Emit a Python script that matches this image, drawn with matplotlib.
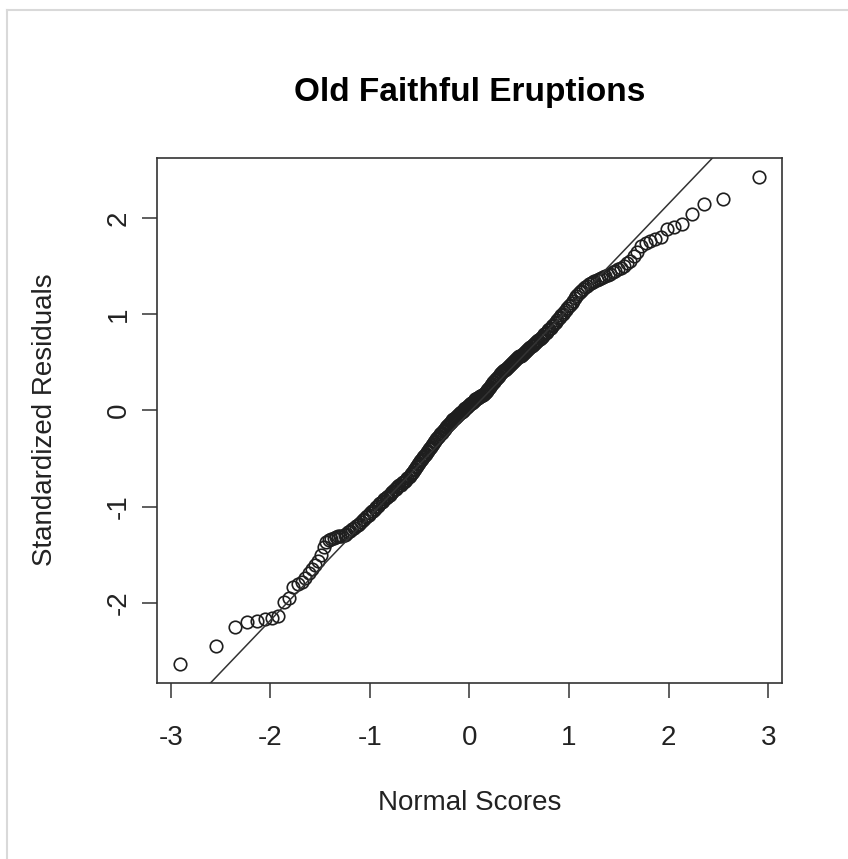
import matplotlib
matplotlib.use("Agg")
import matplotlib.pyplot as plt
from matplotlib.lines import Line2D
import numpy as np
from statistics import NormalDist

title = "Old Faithful Eruptions"
x_label = "Normal Scores"
y_label = "Standardized Residuals"
x_ticks = [-3, -2, -1, 0, 1, 2, 3]
y_ticks = [-2, -1, 0, 1, 2]

# standardized residuals (sorted)
residuals = [
    -2.63, -2.45, -2.25, -2.20, -2.19, -2.17, -2.16, -2.14, -1.99, -1.95,
    -1.83, -1.80, -1.78, -1.74, -1.69, -1.65, -1.61, -1.56, -1.50, -1.42,
    -1.37, -1.35, -1.34, -1.33, -1.32, -1.31, -1.30, -1.30, -1.29, -1.28,
    -1.26, -1.25, -1.23, -1.22, -1.20, -1.19, -1.18, -1.16, -1.14, -1.13,
    -1.11, -1.10, -1.09, -1.07, -1.05, -1.04, -1.02, -1.00, -0.99, -0.97,
    -0.96, -0.95, -0.94, -0.92, -0.91, -0.90, -0.89, -0.88, -0.86, -0.85,
    -0.84, -0.82, -0.82, -0.80, -0.79, -0.78, -0.77, -0.755, -0.745, -0.74,
    -0.73, -0.72, -0.705, -0.69, -0.68, -0.66, -0.65, -0.635, -0.62, -0.61,
    -0.59, -0.58, -0.56, -0.55, -0.53, -0.52, -0.50, -0.485, -0.47, -0.46,
    -0.45, -0.43, -0.42, -0.405, -0.39, -0.38, -0.36, -0.35, -0.33, -0.32,
    -0.30, -0.29, -0.28, -0.27, -0.25, -0.24, -0.23, -0.215, -0.20, -0.19,
    -0.175, -0.165, -0.155, -0.145, -0.135, -0.12, -0.11, -0.10, -0.09, -0.085,
    -0.08, -0.07, -0.06, -0.05, -0.04, -0.03, -0.02, -0.015, -0.01, 0.00,
    0.01, 0.02, 0.03, 0.035, 0.045, 0.055, 0.07, 0.075, 0.08, 0.09,
    0.10, 0.11, 0.115, 0.12, 0.125, 0.13, 0.14, 0.145, 0.15, 0.16,
    0.165, 0.17, 0.18, 0.19, 0.20, 0.21, 0.22, 0.23, 0.245, 0.26,
    0.275, 0.29, 0.30, 0.315, 0.325, 0.34, 0.35, 0.36, 0.375, 0.385,
    0.395, 0.405, 0.415, 0.42, 0.43, 0.44, 0.45, 0.46, 0.47, 0.48,
    0.49, 0.505, 0.515, 0.525, 0.53, 0.54, 0.55, 0.56, 0.565, 0.57,
    0.58, 0.59, 0.60, 0.61, 0.62, 0.63, 0.64, 0.65, 0.66, 0.67,
    0.68, 0.69, 0.70, 0.71, 0.72, 0.73, 0.74, 0.755, 0.765, 0.775,
    0.79, 0.80, 0.815, 0.83, 0.845, 0.86, 0.875, 0.89, 0.905, 0.92,
    0.94, 0.955, 0.97, 0.99, 1.005, 1.025, 1.04, 1.06, 1.08, 1.10,
    1.12, 1.14, 1.165, 1.185, 1.21, 1.225, 1.24, 1.26, 1.28, 1.295,
    1.31, 1.325, 1.335, 1.345, 1.355, 1.37, 1.38, 1.39, 1.40, 1.41,
    1.42, 1.435, 1.45, 1.465, 1.48, 1.505, 1.53, 1.55, 1.60, 1.65,
    1.71, 1.74, 1.76, 1.78, 1.80, 1.88, 1.90, 1.94, 2.04, 2.14,
    2.20, 2.42,
]

plt.rcParams["font.family"] = ["Liberation Sans", "DejaVu Sans"]
plt.rcParams["axes.unicode_minus"] = False

res = np.sort(np.array(residuals))
n = len(res)
nd = NormalDist()
# normal scores like qqnorm (ppoints with a = 1/2)
scores = np.array([nd.inv_cdf((i + 0.5) / n) for i in range(n)])

# qqline: through the first and third quartiles
q_y = np.quantile(res, [0.25, 0.75])
q_x = np.array([nd.inv_cdf(0.25), nd.inv_cdf(0.75)])
slope = (q_y[1] - q_y[0]) / (q_x[1] - q_x[0])
intercept = q_y[0] - slope * q_x[0]

W, H = 848, 859
fig = plt.figure(figsize=(W / 100, H / 100), dpi=100)
ax = fig.add_axes([157 / W, 1 - 683 / H, 625 / W, 525 / H])

ax.plot(scores, res, "o", mfc="none", mec="#1e1e1e", ms=9, mew=1.2)
ax.axline((0, intercept), slope=slope, color="#333333", lw=1.1)

xr = scores.max() - scores.min()
yr = res.max() - res.min()
ax.set_xlim(scores.min() - 0.04 * xr, scores.max() + 0.04 * xr)
ax.set_ylim(res.min() - 0.04 * yr, res.max() + 0.04 * yr)

ax.set_xticks(x_ticks)
ax.set_yticks(y_ticks)
ax.tick_params(length=11, width=1.1, color="#333333", labelsize=20,
               labelcolor="#222222")
ax.tick_params(axis="x", pad=19)
ax.tick_params(axis="y", pad=7, labelrotation=90)
for lab in ax.get_yticklabels():
    lab.set_va("center")
for s in ax.spines.values():
    s.set_color("#333333")
    s.set_linewidth(1.2)

fig.text(469.5 / W, 1 - 93 / H, title, ha="center", va="center",
         fontsize=24, fontweight="bold")
fig.text(469.5 / W, 1 - 803 / H, x_label, ha="center", va="center",
         fontsize=20, color="#222222")
fig.text(45 / W, 1 - 420 / H, y_label, ha="center", va="center",
         rotation=90, fontsize=20, color="#222222")

# light frame of the screenshot
fig.add_artist(Line2D([7 / W, 7 / W], [0, 1 - 10 / H], transform=fig.transFigure,
                      color="#d9d9d9", lw=1.5))
fig.add_artist(Line2D([7 / W, 1], [1 - 10 / H, 1 - 10 / H], transform=fig.transFigure,
                      color="#d9d9d9", lw=1.5))

fig.savefig("out.png", dpi=100)
